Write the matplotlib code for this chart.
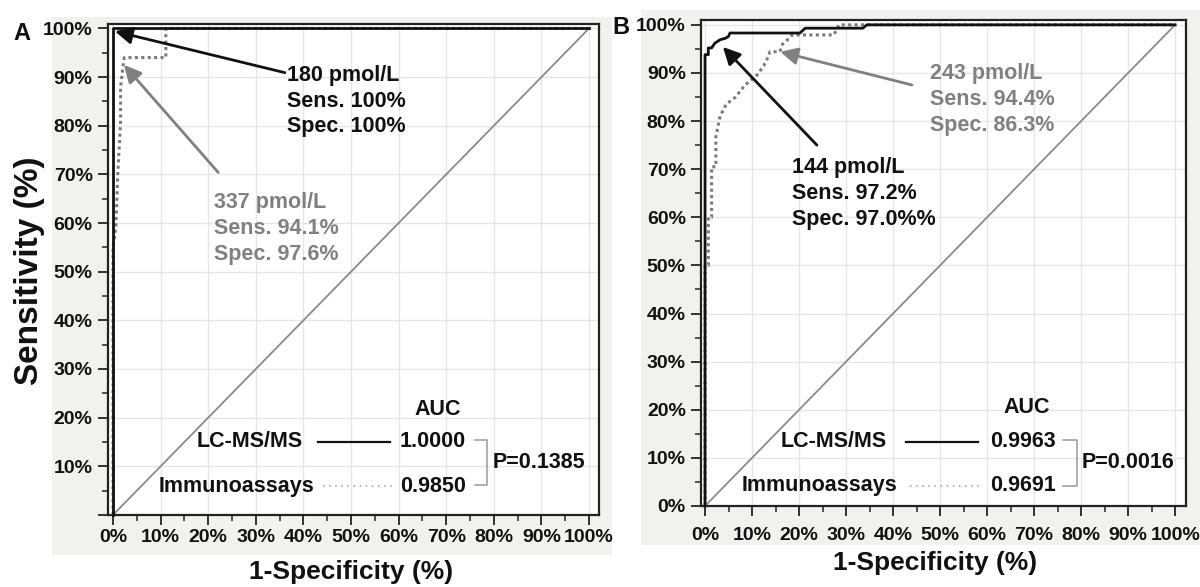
import matplotlib
matplotlib.use('Agg')
import matplotlib.pyplot as plt
from matplotlib.patches import Rectangle
from matplotlib.ticker import MultipleLocator, FuncFormatter

plt.rcParams['font.family'] = ['Liberation Sans', 'DejaVu Sans']
plt.rcParams['font.weight'] = 'bold'

# ROC curves, values (percent)
a_lc_x = [0, 0, 100]
a_lc_y = [0, 100, 100]
a_ia_x = [0, 0, 0.6, 1.0, 1.6, 1.6, 2.2, 2.4, 11.1, 11.1, 100]
a_ia_y = [0, 55, 59, 70, 81, 88, 93, 94, 94, 100, 100]

b_lc_x = [0, 0, 0.7, 0.7, 1.4, 2.1, 3.2, 4.3, 5.0, 5.3, 20.2, 21.3, 33.6, 34.4, 100]
b_lc_y = [0, 93.8, 93.8, 95.2, 95.2, 96.2, 96.9, 97.2, 97.6, 98.3, 98.3, 99.3, 99.3, 100, 100]
b_ia_x = [0, 0, 0.7, 0.7, 1.4, 1.4, 2.3, 2.3, 3.2, 4.5, 6.5, 8.5, 11.0, 12.5, 13.4, 13.8,
          15.9, 16.5, 18.0, 18.5, 27.4, 28.5, 100]
b_ia_y = [0, 50, 50, 60, 60, 70.5, 70.5, 76.7, 81, 83.5, 85, 87.5, 89.5, 91.5, 93.3, 94.4,
          94.4, 96, 97.3, 97.9, 97.9, 100, 100]

methods = ['LC-MS/MS', 'Immunoassays']
auc_a = ['1.0000', '0.9850']
auc_b = ['0.9963', '0.9691']
p_a = 'P=0.1385'
p_b = 'P=0.0016'

cut_a = ['180 pmol/L\nSens. 100%\nSpec. 100%', '337 pmol/L\nSens. 94.1%\nSpec. 97.6%']
cut_b = ['144 pmol/L\nSens. 97.2%\nSpec. 97.0%%', '243 pmol/L\nSens. 94.4%\nSpec. 86.3%']

BLACK = '#111111'
GRAY = '#808080'
BG = '#f2f2ec'

fig = plt.figure(figsize=(12, 5.87), dpi=100)
fig.patch.set_facecolor('white')
fig.patches.append(Rectangle((0.0433, 0.0545), 0.4667, 0.9165, transform=fig.transFigure,
                             facecolor=BG, edgecolor='none', zorder=-10))
fig.patches.append(Rectangle((0.534, 0.0716), 0.466, 0.9114, transform=fig.transFigure,
                             facecolor=BG, edgecolor='none', zorder=-10))

axA = fig.add_axes([0.09, 0.1227, 0.4092, 0.8364])
axB = fig.add_axes([0.5842, 0.138, 0.4041, 0.8279])


def style_axes(ax, xlim, ylim, show_y0, xpad):
    ax.set_facecolor('white')
    ax.set_xlim(*xlim)
    ax.set_ylim(*ylim)
    ax.xaxis.set_major_locator(MultipleLocator(10))
    ax.xaxis.set_minor_locator(MultipleLocator(5))
    ax.yaxis.set_major_locator(MultipleLocator(10))
    ax.yaxis.set_minor_locator(MultipleLocator(5))
    fmt_x = FuncFormatter(lambda v, p: f'{int(round(v))}%')
    fmt_y = FuncFormatter(lambda v, p: '' if (v < 1 and not show_y0) else f'{int(round(v))}%')
    ax.xaxis.set_major_formatter(fmt_x)
    ax.yaxis.set_major_formatter(fmt_y)
    ax.grid(True, which='major', color='#e6e6e6', lw=1.0, zorder=0)
    ax.set_axisbelow(True)
    for s in ax.spines.values():
        s.set_linewidth(1.6)
        s.set_color('#222222')
    ax.tick_params(which='major', direction='out', length=7, width=1.3, color='#222222')
    ax.tick_params(which='minor', direction='out', length=4, width=1.1, color='#222222')
    ax.tick_params(axis='x', pad=xpad)
    ax.tick_params(axis='y', pad=4)
    ax.tick_params(top=False, right=False, which='both')
    for lab in ax.get_xticklabels() + ax.get_yticklabels():
        lab.set_fontweight('bold')
        lab.set_fontsize(14)
        lab.set_color(BLACK)


def draw_panel(ax, lc_x, lc_y, ia_x, ia_y):
    ax.plot([0, 100], [0, 100], color='#8a8a8a', lw=1.3, zorder=2)
    ax.plot(ia_x, ia_y, color='#7a7a7a', lw=2.2, linestyle=(0, (1, 1.1)),
            dash_capstyle='butt', zorder=3, clip_on=False)
    ax.plot(lc_x, lc_y, color=BLACK, lw=2.0, zorder=4, clip_on=False)


def draw_legend(ax, auc, ptxt, cfg):
    ax.text(cfg['auc_x'], cfg['auc_y'], 'AUC', ha='center', va='center', fontsize=15.5,
            color=BLACK)
    ax.text(cfg['lab1_x'], cfg['y1'], methods[0], ha='right', va='center', fontsize=15.5,
            color=BLACK)
    ax.text(cfg['lab2_x'], cfg['y2'], methods[1], ha='right', va='center', fontsize=15.5,
            color=BLACK)
    ax.plot(cfg['line1'], [cfg['y1'], cfg['y1']], color=BLACK, lw=1.6, zorder=5)
    ax.plot(cfg['line2'], [cfg['y2'], cfg['y2']], color='#9a9a9a', lw=1.1,
            linestyle=(0, (1, 3)), zorder=5)
    ax.text(cfg['num_x'], cfg['y1'], auc[0], ha='left', va='center', fontsize=15.5, color=BLACK)
    ax.text(cfg['num_x'], cfg['y2'], auc[1], ha='left', va='center', fontsize=15.5, color=BLACK)
    bx0, bx1 = cfg['brk_x']
    by0, by1 = cfg['brk_y']
    ax.plot([bx0, bx1, bx1, bx0], [by0, by0, by1, by1], color='#9a9a9a', lw=1.1, zorder=5)
    ax.text(cfg['p_x'], (by0 + by1) / 2, ptxt, ha='left', va='center', fontsize=15.5,
            color=BLACK)


def arrow(ax, tip, tail, color):
    ax.annotate('', xy=tip, xytext=tail,
                arrowprops=dict(arrowstyle='-|>', color=color, lw=2.0, mutation_scale=26,
                                shrinkA=0, shrinkB=0), zorder=6)


# Panel A
draw_panel(axA, a_lc_x, a_lc_y, a_ia_x, a_ia_y)
style_axes(axA, (-1.05, 102.1), (0, 100.9), False, 3)
arrow(axA, (0.4, 99.4), (36.1, 90.9), BLACK)
arrow(axA, (2.3, 92.5), (22.1, 70.4), GRAY)
axA.text(36.6, 92.5, cut_a[0], ha='left', va='top', fontsize=15.5, color=BLACK, linespacing=1.3)
axA.text(21.2, 66.3, cut_a[1], ha='left', va='top', fontsize=15.5, color=GRAY, linespacing=1.3)
draw_legend(axA, auc_a, p_a, dict(auc_x=68.3, auc_y=21.7, lab1_x=39.9, lab2_x=42.4,
                                  y1=15.0, y2=5.9, line1=[43.1, 58.2], line2=[44.1, 59.2],
                                  num_x=60.3, brk_x=(76.1, 78.6), brk_y=(15.4, 6.2), p_x=79.8))

# Panel B
draw_panel(axB, b_lc_x, b_lc_y, b_ia_x, b_ia_y)
style_axes(axB, (-0.85, 102.3), (0, 101), True, 8)
arrow(axB, (3.8, 95.4), (23.8, 75.0), BLACK)
arrow(axB, (16.0, 94.4), (44.0, 87.5), GRAY)
axB.text(18.5, 72.5, cut_b[0], ha='left', va='top', fontsize=15.5, color=BLACK, linespacing=1.3)
axB.text(47.9, 92.0, cut_b[1], ha='left', va='top', fontsize=15.5, color=GRAY, linespacing=1.3)
draw_legend(axB, auc_b, p_b, dict(auc_x=68.5, auc_y=20.4, lab1_x=38.7, lab2_x=40.9,
                                  y1=13.3, y2=4.2, line1=[42.8, 58.1], line2=[43.6, 58.9],
                                  num_x=60.6, brk_x=(76.2, 79.1), brk_y=(13.7, 4.2), p_x=80.2))

# labels
fig.text(351 / 1200, 1 - 572 / 587, '1-Specificity (%)', ha='center', va='center',
         fontsize=19, color=BLACK)
fig.text(935 / 1200, 1 - 563 / 587, '1-Specificity (%)', ha='center', va='center',
         fontsize=19, color=BLACK)
fig.text(30 / 1200, 1 - 271 / 587, 'Sensitivity (%)', ha='center', va='center',
         rotation=90, fontsize=24, color=BLACK)
fig.text(22 / 1200, 1 - 33 / 587, 'A', ha='center', va='center', fontsize=17, color=BLACK)
fig.text(621 / 1200, 1 - 27 / 587, 'B', ha='center', va='center', fontsize=17, color=BLACK)

fig.savefig('out.png', dpi=100, facecolor='white')
